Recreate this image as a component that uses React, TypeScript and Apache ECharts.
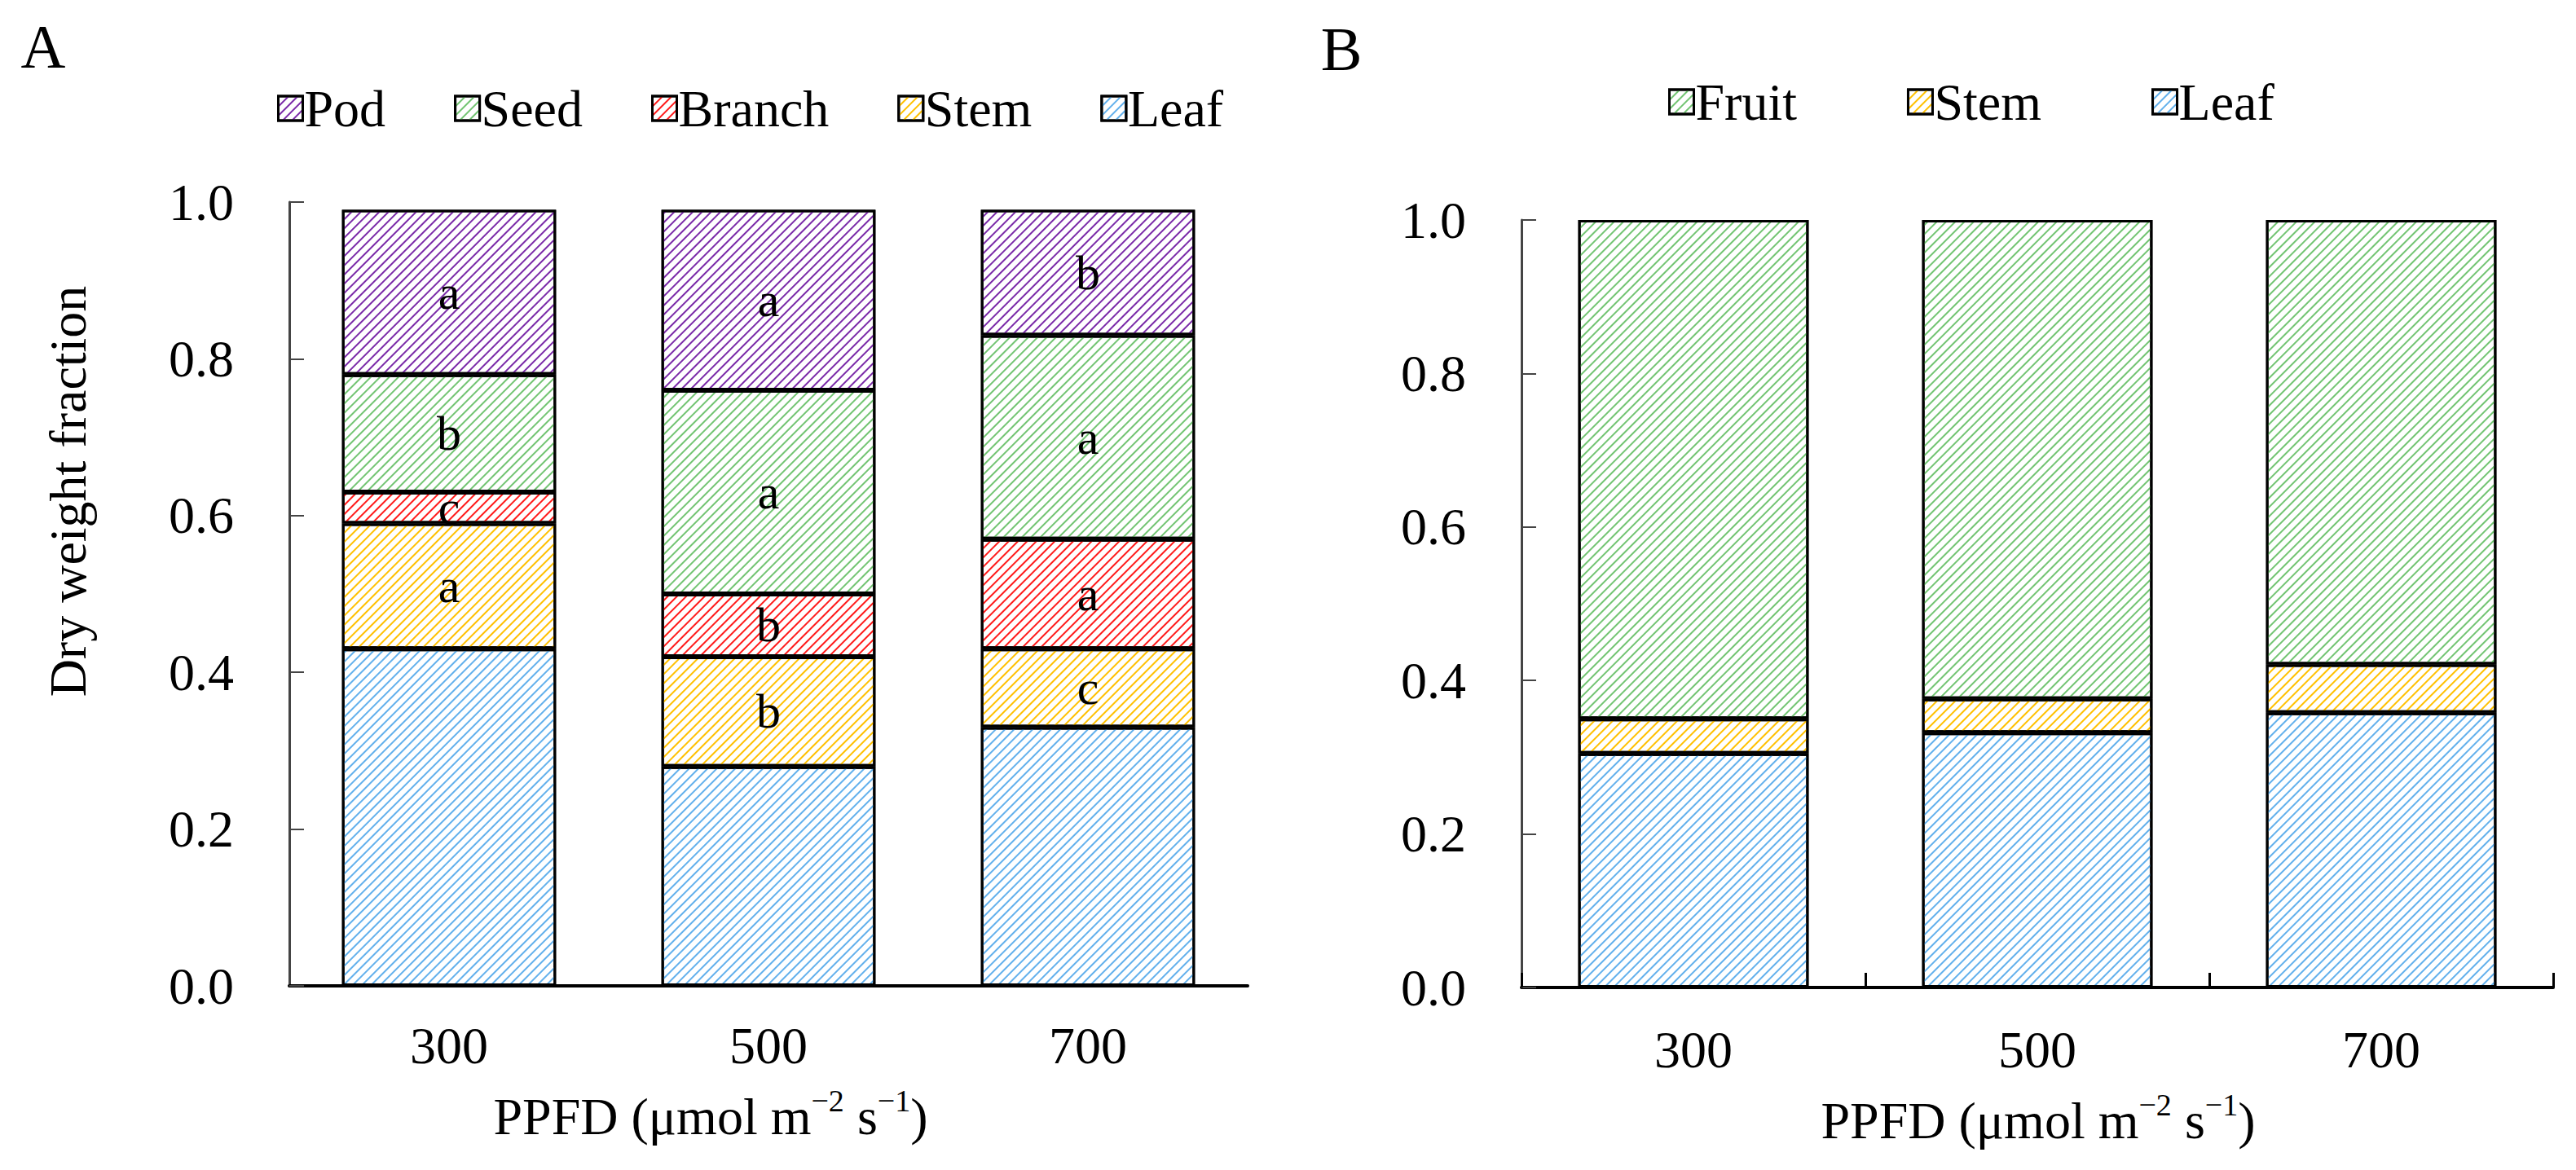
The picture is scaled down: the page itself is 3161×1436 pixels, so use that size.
import React, { useEffect, useRef } from 'react';
import * as echarts from 'echarts';

// ---------- data ----------
const categories = ['300', '500', '700'];

// Panel A (stacked fractions, bottom to top)
const leafA = [0.43, 0.28, 0.33];
const stemA = [0.16, 0.14, 0.1];
const branchA = [0.04, 0.08, 0.14];
const seedA = [0.15, 0.26, 0.26];
const podA = [0.21, 0.23, 0.16];

// significance letters, panel A
const stemLetters = ['a', 'b', 'c'];
const branchLetters = ['c', 'b', 'a'];
const seedLetters = ['b', 'a', 'a'];
const podLetters = ['a', 'a', 'b'];

// Panel B
const leafB = [0.305, 0.332, 0.358];
const stemB = [0.045, 0.044, 0.063];
const fruitB = [0.65, 0.624, 0.579];

const legendA = ['Pod', 'Seed', 'Branch', 'Stem', 'Leaf'];
const legendB = ['Fruit', 'Stem', 'Leaf'];

// ---------- style ----------
const FONT = 'Liberation Serif';
const C_POD = '#7a2aa8';
const C_SEED = '#72c472';
const C_BRANCH = '#ff1a1a';
const C_STEM = '#ffc000';
const C_LEAF = '#62b0ec';

const hatch = (c: string) => ({
  symbol: 'rect',
  symbolSize: 1,
  color: c,
  dashArrayX: [1, 0],
  dashArrayY: [2, 6],
  rotation: -Math.PI / 4,
});

const itemStyle = (c: string) => ({
  color: '#ffffff',
  borderColor: '#000000',
  borderWidth: 3,
  decal: hatch(c),
});

const letterLabel = (letters: string[]) => ({
  show: true,
  position: 'inside',
  formatter: (p: any) => letters[p.dataIndex],
  fontFamily: FONT,
  fontSize: 60,
  color: '#000',
});

export default function App() {
  const ref = useRef<HTMLDivElement>(null);

  useEffect(() => {
    if (!ref.current) return;
    const chart = echarts.init(ref.current, undefined, { renderer: 'svg' });

    const yAxisCommon = {
      type: 'value',
      min: 0,
      max: 1,
      interval: 0.2,
      axisLine: { show: true, lineStyle: { color: '#444', width: 3 } },
      axisTick: { show: true, inside: true, length: 18, lineStyle: { color: '#444', width: 2 } },
      axisLabel: {
        formatter: (v: number) => v.toFixed(1),
        fontFamily: FONT,
        fontSize: 64,
        color: '#000',
        margin: 68,
      },
      splitLine: { show: false },
    };

    const supText = (x: number, y: number) => ({
      type: 'text',
      x,
      y,
      style: {
        text: '{n|PPFD (μmol m}{s|−2}{n| s}{s|−1}{n|)}',
        align: 'center',
        verticalAlign: 'middle',
        fill: '#000',
        rich: {
          n: { fontFamily: FONT, fontSize: 64, lineHeight: 76, fill: '#000' },
          s: { fontFamily: FONT, fontSize: 38, lineHeight: 56, verticalAlign: 'top', fill: '#000' },
        },
      },
    });

    const option: any = {
      animation: false,
      backgroundColor: '#ffffff',
      aria: { enabled: true, decal: { show: true } },
      textStyle: { fontFamily: FONT },
      grid: [
        { left: 355, top: 248, width: 1176, height: 962 },
        { left: 1867, top: 270, width: 1266, height: 942 },
      ],
      legend: [
        {
          data: legendA,
          left: 340,
          top: 101,
          padding: 0,
          itemGap: 84,
          itemWidth: 30,
          itemHeight: 30,
          icon: 'rect',
          selectedMode: false,
          textStyle: { fontFamily: FONT, fontSize: 64, color: '#000', padding: [0, 0, 0, -3] },
          itemStyle: { borderColor: '#000', borderWidth: 3 },
        },
        {
          data: legendB,
          left: 2047,
          top: 93,
          padding: 0,
          itemGap: 135,
          itemWidth: 30,
          itemHeight: 30,
          icon: 'rect',
          selectedMode: false,
          textStyle: { fontFamily: FONT, fontSize: 64, color: '#000', padding: [0, 0, 0, -3] },
          itemStyle: { borderColor: '#000', borderWidth: 3 },
        },
      ],
      xAxis: [
        {
          type: 'category',
          gridIndex: 0,
          data: categories,
          axisLine: { show: true, lineStyle: { color: '#000', width: 4 } },
          axisTick: { show: false },
          axisLabel: { fontFamily: FONT, fontSize: 64, color: '#000', margin: 41 },
        },
        {
          type: 'category',
          gridIndex: 1,
          data: categories,
          axisLine: { show: true, lineStyle: { color: '#000', width: 4 } },
          axisTick: { show: true, inside: true, length: 18, lineStyle: { color: '#000', width: 3 } },
          axisLabel: { fontFamily: FONT, fontSize: 64, color: '#000', margin: 44 },
        },
      ],
      yAxis: [
        { ...yAxisCommon, gridIndex: 0 },
        { ...yAxisCommon, gridIndex: 1 },
      ],
      series: [
        { name: 'Leaf', type: 'bar', stack: 'A', xAxisIndex: 0, yAxisIndex: 0, barWidth: '67%', data: leafA, itemStyle: itemStyle(C_LEAF) },
        { name: 'Stem', type: 'bar', stack: 'A', xAxisIndex: 0, yAxisIndex: 0, barWidth: '67%', data: stemA, itemStyle: itemStyle(C_STEM), label: letterLabel(stemLetters) },
        { name: 'Branch', type: 'bar', stack: 'A', xAxisIndex: 0, yAxisIndex: 0, barWidth: '67%', data: branchA, itemStyle: itemStyle(C_BRANCH), label: letterLabel(branchLetters) },
        { name: 'Seed', type: 'bar', stack: 'A', xAxisIndex: 0, yAxisIndex: 0, barWidth: '67%', data: seedA, itemStyle: itemStyle(C_SEED), label: letterLabel(seedLetters) },
        { name: 'Pod', type: 'bar', stack: 'A', xAxisIndex: 0, yAxisIndex: 0, barWidth: '67%', data: podA, itemStyle: itemStyle(C_POD), label: letterLabel(podLetters) },
        { name: 'Leaf', type: 'bar', stack: 'B', xAxisIndex: 1, yAxisIndex: 1, barWidth: '67%', data: leafB, itemStyle: itemStyle(C_LEAF) },
        { name: 'Stem', type: 'bar', stack: 'B', xAxisIndex: 1, yAxisIndex: 1, barWidth: '67%', data: stemB, itemStyle: itemStyle(C_STEM) },
        { name: 'Fruit', type: 'bar', stack: 'B', xAxisIndex: 1, yAxisIndex: 1, barWidth: '67%', data: fruitB, itemStyle: itemStyle(C_SEED) },
      ],
      graphic: [
        { type: 'text', x: 53, y: 57, style: { text: 'A', fontFamily: FONT, fontSize: 76, fill: '#000', align: 'center', verticalAlign: 'middle' } },
        { type: 'text', x: 1646, y: 60, style: { text: 'B', fontFamily: FONT, fontSize: 76, fill: '#000', align: 'center', verticalAlign: 'middle' } },
        {
          type: 'text',
          x: 83,
          y: 603,
          rotation: Math.PI / 2,
          style: { text: 'Dry weight fraction', fontFamily: FONT, fontSize: 64, fill: '#000', align: 'center', verticalAlign: 'middle' },
        },
        supText(872, 1370),
        supText(2501, 1375),
      ],
    };

    chart.setOption(option);
    return () => chart.dispose();
  }, []);

  return (
    <div
      ref={ref}
      style={{ position: 'fixed', left: 0, top: 0, width: 3161, height: 1436, background: '#fff' }}
    />
  );
}
